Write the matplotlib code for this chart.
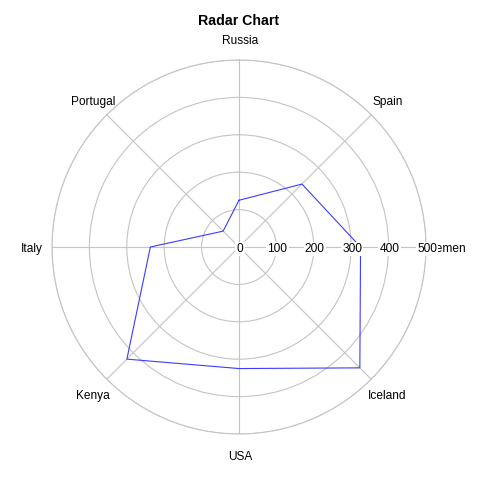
import numpy as np
import matplotlib
matplotlib.use("Agg")
import matplotlib.pyplot as plt
from matplotlib.transforms import offset_copy

plt.rcParams['font.family'] = ['Liberation Sans', 'DejaVu Sans']

# dữ liệu
categories = ["Russia", "Spain", "Yemen", "Iceland", "USA", "Kenya", "Italy", "Portugal"]
values = [125, 238, 325, 457, 325, 424, 237, 60]
rticks = [0, 100, 200, 300, 400, 500]

grid_col = "#c4c4c4"
line_col = "#3c3cff"

fig = plt.figure(figsize=(4.8, 4.8), dpi=100)
ax = fig.add_axes([52 / 480, 46 / 480, 374 / 480, 374 / 480], projection="polar")
ax.set_theta_zero_location("N")
ax.set_theta_direction(-1)

angles = np.linspace(0, 2 * np.pi, len(categories), endpoint=False)

ax.set_ylim(0, 500)
ax.set_yticks(rticks[1:])
ax.set_yticklabels([])
ax.set_xticks(angles)
ax.set_xticklabels([])
ax.tick_params(length=0)
ax.grid(True, color=grid_col, linewidth=0.8)
ax.spines["polar"].set_color(grid_col)
ax.spines["polar"].set_linewidth(0.8)

# đường radar (khép kín)
a = np.append(angles, angles[0])
v = np.append(values, values[0])
ax.plot(a, v, color=line_col, linewidth=0.8)

# dời chữ xuống ~2px cho khớp ảnh gốc
tr = offset_copy(ax.transData, fig=fig, x=1, y=-2, units="dots")

# nhãn các trục
for ang, name in zip(angles, categories):
    ax.text(ang, 557, name, ha="center", va="center", fontsize=8.6,
            color="black", transform=tr)

# nhãn bán kính dọc theo trục Yemen
for r in rticks:
    ax.text(np.pi / 2, r, str(r), ha="center", va="center", fontsize=8.6,
            color="black", zorder=5, transform=tr,
            bbox=dict(boxstyle="square,pad=0.1", fc="white", ec="none"))

fig.text(239 / 480, 1 - 21 / 480, "Radar Chart", ha="center", va="center",
         fontsize=10.2, fontweight="bold")

fig.savefig("out.png", dpi=100)
